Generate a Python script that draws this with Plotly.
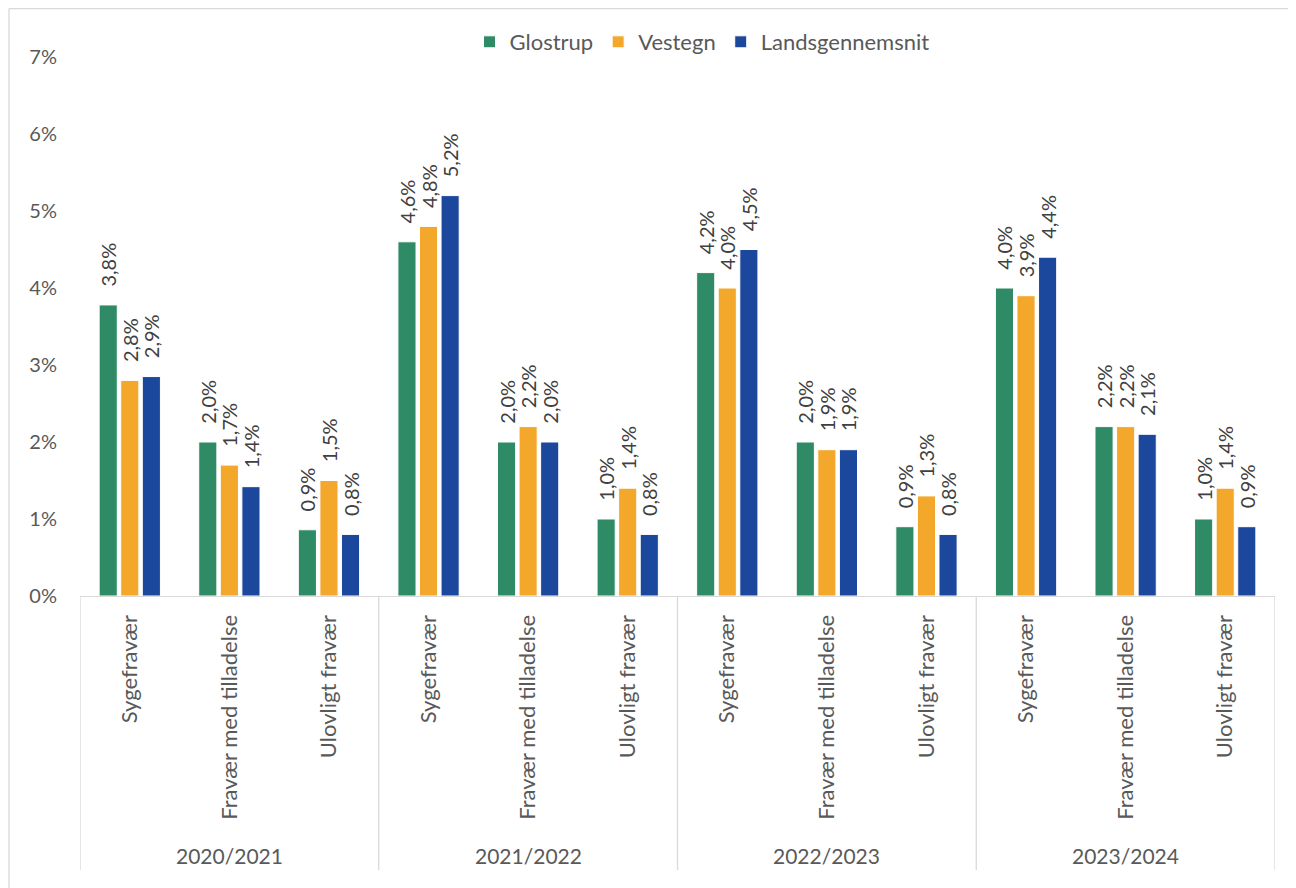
import plotly.graph_objects as go

years = ["2020/2021", "2021/2022", "2022/2023", "2023/2024"]
types = ["Sygefravær", "Fravær med tilladelse", "Ulovligt fravær"]
series_names = ["Glostrup", "Vestegn", "Landsgennemsnit"]

glostrup = [3.78, 2.0, 0.86, 4.6, 2.0, 1.0, 4.2, 2.0, 0.9, 4.0, 2.2, 1.0]
vestegn = [2.8, 1.7, 1.5, 4.8, 2.2, 1.4, 4.0, 1.9, 1.3, 3.9, 2.2, 1.4]
lands = [2.85, 1.42, 0.8, 5.2, 2.0, 0.8, 4.5, 1.9, 0.8, 4.4, 2.1, 0.9]

glostrup_lbl = ["3,8%", "2,0%", "0,9%", "4,6%", "2,0%", "1,0%", "4,2%", "2,0%", "0,9%", "4,0%", "2,2%", "1,0%"]
vestegn_lbl = ["2,8%", "1,7%", "1,5%", "4,8%", "2,2%", "1,4%", "4,0%", "1,9%", "1,3%", "3,9%", "2,2%", "1,4%"]
lands_lbl = ["2,9%", "1,4%", "0,8%", "5,2%", "2,0%", "0,8%", "4,5%", "1,9%", "0,8%", "4,4%", "2,1%", "0,9%"]

colors = ["#2F8A66", "#F3A82B", "#1B479D"]
FONT = "Lato, 'Liberation Sans', sans-serif"
TXT = "#595959"

n = len(years) * len(types)
xs = list(range(n))
tick_labels = [t for _ in years for t in types]

fig = go.Figure()
for name, vals, lbls, col in zip(series_names, [glostrup, vestegn, lands],
                                 [glostrup_lbl, vestegn_lbl, lands_lbl], colors):
    fig.add_trace(go.Bar(
        x=xs, y=vals, name=name, text=lbls,
        texttemplate="\u00a0\u00a0\u00a0%{text}",
        textposition="outside", textangle=-90, constraintext="none",
        textfont=dict(family=FONT, size=20, color="#404040"),
        marker=dict(color=col, line=dict(color="white", width=1)),
        cliponaxis=False,
    ))

PW, PH = 1195, 539
T = 49
ng = len(types)
shapes = []
for i in range(len(years) + 1):
    shapes.append(dict(type="line", xref="x", yref="paper",
                       x0=i * ng - 0.5, x1=i * ng - 0.5, y0=0, y1=-274 / PH,
                       line=dict(color="#D9D9D9", width=1.3)))
# outer chart border (top and left)
top_y = 1 + (T - 0.5) / PH
shapes.append(dict(type="line", xref="paper", yref="paper",
                   x0=-71 / PW, x1=1 + 25 / PW, y0=top_y, y1=top_y,
                   line=dict(color="#D9D9D9", width=1.3)))
shapes.append(dict(type="line", xref="paper", yref="paper",
                   x0=-71 / PW, x1=-71 / PW, y0=top_y, y1=-300 / PH,
                   line=dict(color="#D9D9D9", width=1.3)))

annotations = []
for i, yr in enumerate(years):
    annotations.append(dict(x=i * ng + (ng - 1) / 2, y=-259 / PH, xref="x", yref="paper",
                            text=yr, showarrow=False, yanchor="middle",
                            font=dict(family=FONT, size=21, color=TXT)))

fig.update_layout(
    width=1288, height=880,
    margin=dict(l=72, r=21, t=T, b=880 - T - PH, pad=0),
    paper_bgcolor="white", plot_bgcolor="white",
    barmode="group", bargap=0.35, bargroupgap=0.16,
    font=dict(family=FONT, color=TXT),
    legend=dict(orientation="h", x=(702 - 80) / PW, xanchor="center", y=1 + 15 / PH, yanchor="middle",
                font=dict(family=FONT, size=22, color=TXT), itemwidth=30,
                bgcolor="rgba(0,0,0,0)", traceorder="normal"),
    xaxis=dict(range=[-0.5, n - 0.5], tickmode="array", tickvals=xs, ticktext=tick_labels,
               tickangle=-90, tickfont=dict(family=FONT, size=22, color=TXT),
               showline=True, linecolor="#D9D9D9", linewidth=1.3, ticks="",
               ticklabelstandoff=9,
               showgrid=False, zeroline=False, fixedrange=True),
    yaxis=dict(range=[0, 7], dtick=1, ticksuffix="%", showgrid=False, zeroline=False,
               showline=False, tickfont=dict(family=FONT, size=20, color=TXT),
               ticklabelstandoff=22),
    shapes=shapes, annotations=annotations,
)

fig.write_html("out.html")
